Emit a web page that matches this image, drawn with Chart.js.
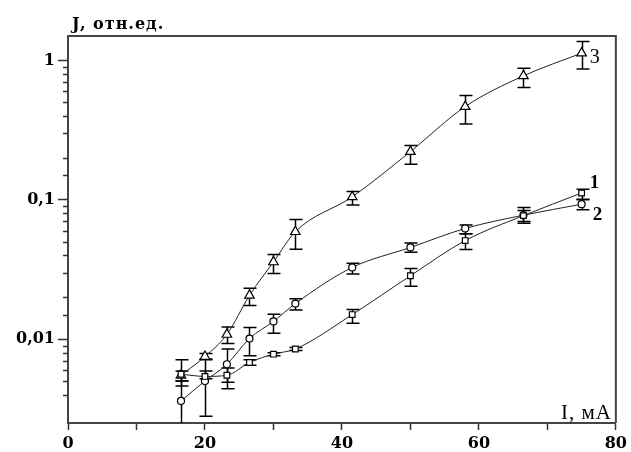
<!DOCTYPE html>
<html>
<head>
<meta charset="utf-8">
<script src="https://cdn.jsdelivr.net/npm/chart.js@4"></script>
<style>
  body { margin: 0; background: #fff; }
  canvas { display: block; }
</style>
</head>
<body>
<canvas id="myChart" width="631" height="452"></canvas>
<script>
// current, mA (same for all three curves)
const current = [16.5, 20, 23.2, 26.5, 30, 33.2, 41.5, 50, 58, 66.5, 75];

// curve 1 (squares)
const series1 = [0.0056, 0.0054, 0.0055, 0.0068, 0.0078, 0.0085, 0.015, 0.0285, 0.051, 0.077, 0.112];
const series1Low = [0.0046, 0.0052, 0.0044, 0.0065, 0.0076, 0.0083, 0.013, 0.024, 0.044, 0.07, 0.101];
const series1High = [0.0059, 0.0059, 0.0062, 0.0071, 0.008, 0.0087, 0.0163, 0.0322, 0.057, 0.088, 0.119];

// curve 2 (circles)
const series2 = [0.0036, 0.005, 0.0066, 0.0101, 0.0134, 0.018, 0.0327, 0.0455, 0.0623, 0.0776, 0.093];
const series2Low = [0.002, 0.0028, 0.0049, 0.0076, 0.011, 0.0162, 0.0293, 0.042, 0.057, 0.068, 0.085];
const series2High = [0.005, 0.0072, 0.0085, 0.0121, 0.0151, 0.0195, 0.035, 0.049, 0.066, 0.084, 0.1];

// curve 3 (triangles)
const series3 = [0.0055, 0.0075, 0.0108, 0.0206, 0.0358, 0.059, 0.105, 0.222, 0.467, 0.776, 1.13];
const series3Low = [0.005, 0.0071, 0.0093, 0.0174, 0.0296, 0.0441, 0.092, 0.18, 0.35, 0.64, 0.87];
const series3High = [0.0071, 0.0079, 0.0122, 0.0232, 0.0405, 0.0721, 0.115, 0.245, 0.56, 0.88, 1.37];

const curveLabels = ["1", "2", "3"];
const yTickLabels = {1: "1", 0.1: "0,1", 0.01: "0,01"};

function toPoints(ys) {
    return current.map((x, i) => ({x: x, y: ys[i]}));
}

const errorBars = [
    [series1Low, series1High],
    [series2Low, series2High],
    [series3Low, series3High]
];

// where the curve number sits, relative to the last point
const labelOffsets = [[8, -5], [11, 16], [8, 10]];
const labelFonts = ['bold 19px "Liberation Serif"', 'bold 19px "Liberation Serif"', '20px "Liberation Serif"'];

const extras = {
    id: 'extras',
    beforeDatasetsDraw: (chart) => {
        const {ctx, chartArea} = chart;
        const xs = chart.scales.x;
        const ys = chart.scales.y;
        ctx.save();
        ctx.beginPath();
        ctx.rect(chartArea.left, chartArea.top, chartArea.right - chartArea.left, chartArea.bottom - chartArea.top);
        ctx.clip();
        ctx.strokeStyle = '#000';
        ctx.lineWidth = 1.5;
        errorBars.forEach(([low, high]) => {
            current.forEach((x, i) => {
                const px = Math.round(xs.getPixelForValue(x)) + 0.5;
                const y1 = ys.getPixelForValue(low[i]);
                const y2 = ys.getPixelForValue(high[i]);
                ctx.beginPath();
                ctx.moveTo(px, y1);
                ctx.lineTo(px, y2);
                ctx.moveTo(px - 6, y1);
                ctx.lineTo(px + 7, y1);
                ctx.moveTo(px - 6, y2);
                ctx.lineTo(px + 7, y2);
                ctx.stroke();
            });
        });
        ctx.restore();
    },
    afterDraw: (chart) => {
        const {ctx, chartArea} = chart;
        const xs = chart.scales.x;
        const ys = chart.scales.y;
        ctx.save();
        // frame top and right
        ctx.strokeStyle = '#444';
        ctx.lineWidth = 2;
        ctx.beginPath();
        ctx.moveTo(chartArea.left, chartArea.top);
        ctx.lineTo(chartArea.right, chartArea.top);
        ctx.lineTo(chartArea.right, chartArea.bottom);
        ctx.stroke();

        // short minor ticks on the y axis
        ctx.strokeStyle = '#333';
        ctx.lineWidth = 1.5;
        ys.ticks.forEach((t) => {
            if (!t.label) {
                const py = Math.round(ys.getPixelForValue(t.value)) + 0.5;
                ctx.beginPath();
                ctx.moveTo(chartArea.left - 5, py);
                ctx.lineTo(chartArea.left, py);
                ctx.stroke();
            }
        });

        ctx.fillStyle = '#000';
        ctx.textBaseline = 'alphabetic';
        ctx.textAlign = 'left';
        ctx.letterSpacing = '1px';
        ctx.font = 'bold 16px "DejaVu Serif"';
        ctx.fillText('J, отн.ед.', 72, 29);

        ctx.textAlign = 'right';
        ctx.letterSpacing = '1px';
        ctx.font = '21px "Liberation Serif"';
        ctx.fillText('I, мА', 612, 419);

        ctx.letterSpacing = '0px';
        ctx.textAlign = 'left';
        const last = current.length - 1;
        chart.data.datasets.forEach((ds, k) => {
            const px = xs.getPixelForValue(current[last]);
            const py = ys.getPixelForValue(ds.data[last].y);
            ctx.font = labelFonts[k];
            ctx.fillText(curveLabels[k], px + labelOffsets[k][0], py + labelOffsets[k][1]);
        });
        ctx.restore();
    }
};

function curve(ys, style, radius) {
    return {
        data: toPoints(ys),
        showLine: true,
        cubicInterpolationMode: 'monotone',
        borderColor: '#222',
        borderWidth: 1,
        pointStyle: style,
        pointRadius: radius,
        pointBackgroundColor: '#fff',
        pointBorderColor: '#000',
        pointBorderWidth: 1.2
    };
}

new Chart("myChart", {
    type: "scatter",
    data: {
        datasets: [
            curve(series1, 'rect', 4),
            curve(series2, 'circle', 3.5),
            curve(series3, 'triangle', 5.5)
        ]
    },
    options: {
        responsive: false,
        animation: false,
        layout: {padding: {top: 36, right: 14, left: 0, bottom: 0}},
        plugins: {
            legend: {display: false},
            tooltip: {enabled: false}
        },
        scales: {
            x: {
                type: 'linear',
                min: 0,
                max: 80,
                afterFit: (scale) => { scale.height = 29; },
                ticks: {
                    stepSize: 10,
                    autoSkip: false,
                    maxRotation: 0,
                    padding: 4,
                    color: '#000',
                    font: {family: 'DejaVu Serif', size: 16, weight: 'bold'},
                    callback: (v) => (v % 20 === 0 ? String(v) : '')
                },
                grid: {drawOnChartArea: false, tickLength: 7, tickColor: '#333', tickWidth: 1.5},
                border: {display: true, color: '#444', width: 2}
            },
            y: {
                type: 'logarithmic',
                min: 0.0025,
                max: 1.5,
                afterFit: (scale) => { scale.width = 68; },
                afterBuildTicks: (scale) => {
                    scale.ticks = scale.ticks.filter((t) => t.value !== 0.0025 && t.value !== 1.5);
                },
                ticks: {
                    autoSkip: false,
                    padding: 3,
                    color: '#000',
                    font: {family: 'DejaVu Serif', size: 16, weight: 'bold'},
                    callback: (v) => yTickLabels[v] || ''
                },
                grid: {
                    drawOnChartArea: false,
                    tickLength: 10,
                    tickWidth: 1.5,
                    tickColor: (c) => (c.tick && yTickLabels[c.tick.value] ? '#333' : 'rgba(0,0,0,0)')
                },
                border: {display: true, color: '#444', width: 2}
            }
        }
    },
    plugins: [extras]
});
</script>
</body>
</html>
